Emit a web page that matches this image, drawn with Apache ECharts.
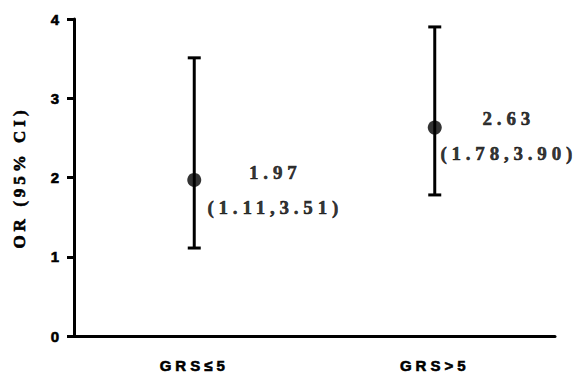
<!DOCTYPE html>
<html>
<head>
<meta charset="utf-8">
<script src="https://cdn.jsdelivr.net/npm/echarts@6/dist/echarts.min.js"></script>
<style>
html,body{margin:0;padding:0;background:#fff;}
#chart{width:577px;height:374px;}
</style>
</head>
<body>
<div id="chart"></div>
<script>
const categories = ['GRS≤5', 'GRS>5'];
const orValues = [1.97, 2.63];
const ciLow = [1.11, 1.78];
const ciHigh = [3.51, 3.90];
const yAxisName = 'OR (95% CI)';

const labelPos = [[88, 17], [81, 15]];

const chart = echarts.init(document.getElementById('chart'), null, {renderer: 'svg'});

const thick = {textBorderColor: '#000', textBorderWidth: 0.6};

const option = {
  animation: false,
  backgroundColor: '#fff',
  grid: {left: 74, right: 22, top: 19, bottom: 38},
  xAxis: {
    type: 'category',
    data: categories,
    boundaryGap: true,
    axisLine: {lineStyle: {color: '#000', width: 3}},
    axisTick: {alignWithLabel: true, length: 7, lineStyle: {color: '#000', width: 3}},
    axisLabel: Object.assign({color: '#000', fontFamily: 'Liberation Sans', fontWeight: 'bold', fontSize: 15, margin: 22}, thick),
    splitLine: {show: false}
  },
  yAxis: {
    type: 'value',
    min: 0, max: 4, interval: 1,
    name: yAxisName,
    nameLocation: 'middle',
    nameGap: 46,
    nameTextStyle: Object.assign({color: '#000', fontFamily: 'Liberation Serif', fontWeight: 'bold', fontSize: 17}, thick),
    axisLine: {show: true, lineStyle: {color: '#000', width: 3}},
    axisTick: {show: true, length: 7, lineStyle: {color: '#000', width: 3}},
    axisLabel: Object.assign({color: '#000', fontFamily: 'Liberation Sans', fontWeight: 'bold', fontSize: 15, margin: 15}, thick),
    splitLine: {show: false}
  },
  series: [
    {
      type: 'custom',
      data: categories.map((c, i) => [i, ciLow[i], ciHigh[i]]),
      renderItem: function (params, api) {
        const x = api.value(0);
        const lo = api.coord([x, api.value(1)]);
        const hi = api.coord([x, api.value(2)]);
        const hw = 6.5;
        const st = {stroke: '#000', lineWidth: 3};
        return {
          type: 'group',
          children: [
            {type: 'line', shape: {x1: lo[0], y1: lo[1], x2: hi[0], y2: hi[1]}, style: st},
            {type: 'line', shape: {x1: hi[0] - hw, y1: hi[1], x2: hi[0] + hw, y2: hi[1]}, style: st},
            {type: 'line', shape: {x1: lo[0] - hw, y1: lo[1], x2: lo[0] + hw, y2: lo[1]}, style: st}
          ]
        };
      },
      z: 2
    },
    {
      type: 'scatter',
      symbol: 'circle',
      symbolSize: 14,
      itemStyle: {color: '#000'},
      z: 3,
      data: orValues.map((v, i) => ({
        value: [i, v],
        label: Object.assign({
          show: true,
          position: labelPos[i],
          align: 'center',
          verticalAlign: 'middle',
          formatter: v.toFixed(2) + '\n(' + ciLow[i].toFixed(2) + ',' + ciHigh[i].toFixed(2) + ')',
          color: '#000',
          fontFamily: 'Liberation Serif',
          fontWeight: 'bold',
          fontSize: 19,
          lineHeight: 35
        }, thick)
      }))
    }
  ]
};

chart.setOption(option);

function applySpacing() {
  document.querySelectorAll('#chart text').forEach(t => {
    const s = (t.textContent || '').trim();
    let sp = 0;
    if (categories.indexOf(s) >= 0) sp = 4;
    else if (s === yAxisName) sp = 4;
    else if (s.indexOf('.') >= 0) sp = 4.8;
    t.style.letterSpacing = sp + 'px';
  });
}
applySpacing();
chart.on('finished', applySpacing);
</script>
</body>
</html>
